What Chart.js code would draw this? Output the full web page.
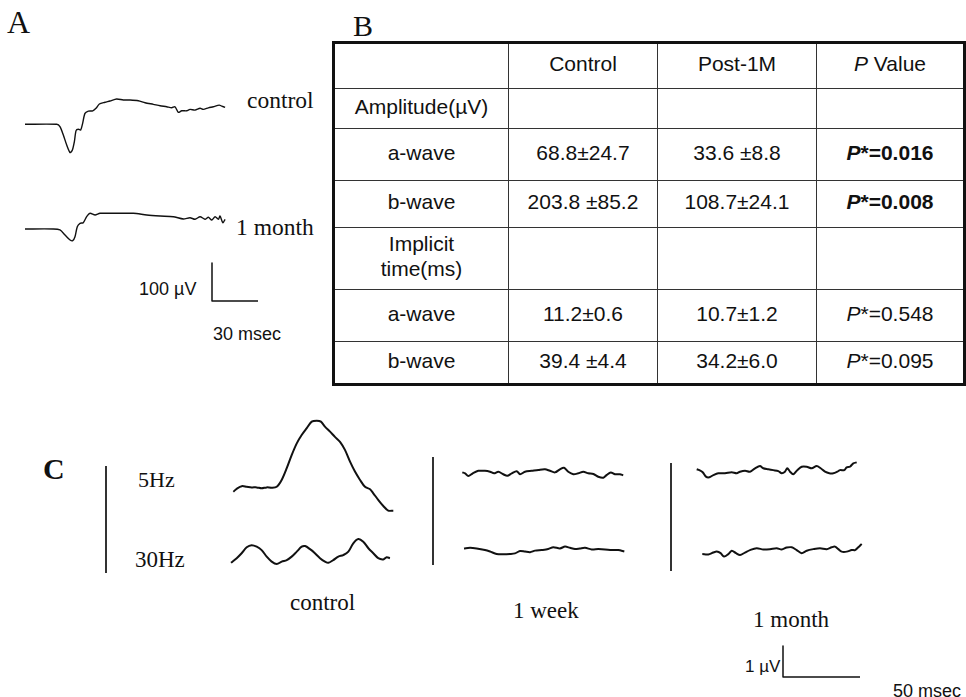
<!DOCTYPE html>
<html>
<head>
<meta charset="utf-8">
<script src="https://cdn.jsdelivr.net/npm/chart.js@4.4.1/dist/chart.umd.min.js"></script>
<style>
html,body{margin:0;padding:0;background:#fff;}
body{width:966px;height:697px;position:relative;overflow:hidden;}
.t{position:absolute;white-space:nowrap;line-height:1;color:#111;}
.serif{font-family:"Liberation Serif","Times New Roman",serif;}
.sans{font-family:"Liberation Sans",Arial,sans-serif;}
canvas{position:absolute;}
.vline{position:absolute;width:1.5px;background:#333;}
#tbl{position:absolute;left:332px;top:41px;border-collapse:collapse;border:3px solid #111;
  font-family:"Liberation Sans",Arial,sans-serif;font-size:21px;color:#111;table-layout:fixed;}
#tbl td{border:1px solid #333;text-align:center;vertical-align:middle;padding:0 0 5px 0;line-height:25px;white-space:nowrap;}
</style>
</head>
<body>
<div class="t serif" style="left:7px;top:6px;font-size:32px;">A</div>
<div class="t serif" style="left:353px;top:11px;font-size:30px;">B</div>
<div class="t serif" style="left:43px;top:454px;font-size:30px;font-weight:bold;">C</div>

<div class="t serif" style="left:247px;top:89px;font-size:23.5px;">control</div>
<div class="t serif" style="left:236px;top:216px;font-size:23.5px;">1 month</div>
<div class="t sans" style="left:139px;top:280px;font-size:18px;">100 µV</div>
<div class="t sans" style="left:213px;top:325px;font-size:18px;">30 msec</div>

<div class="t serif" style="left:138px;top:469px;font-size:22px;">5Hz</div>
<div class="t serif" style="left:135px;top:548px;font-size:23px;">30Hz</div>
<div class="t serif" style="left:290px;top:591px;font-size:23px;">control</div>
<div class="t serif" style="left:513px;top:599px;font-size:23px;">1 week</div>
<div class="t serif" style="left:753px;top:608px;font-size:23px;">1 month</div>
<div class="t sans" style="left:745px;top:658px;font-size:17px;">1 µV</div>
<div class="t sans" style="left:893px;top:682px;font-size:18px;">50 msec</div>

<div class="vline" style="left:105px;top:466px;height:107px;"></div>
<div class="vline" style="left:432px;top:457px;height:108px;"></div>
<div class="vline" style="left:670px;top:463px;height:108px;"></div>

<table id="tbl"></table>
<canvas id="chartA"></canvas>
<canvas id="chartC"></canvas>

<script>
// ---------------- DATA ----------------
// Panel A: ERG traces, time in ms, amplitude in µV (relative to pre-stimulus baseline)
const aControlT = [0,20.7,22.8,25.0,27.2,29.4,30.9,32.2,33.3,34.8,36.3,37.6,39.1,41.3,44.2,46.3,48.5,52.2,55.4,59.8,64.1,68.5,73.9,78.3,83.7,88.1,92.4,95.7,97.8,100.0,102.2,105.5,107.6,110.9,114.2,116.3,119.6,122.8,126.7,128.3,130.5];
const aControlV = [0,0,-6.3,-28.2,-54.5,-74.5,-67.4,-45.5,-16.6,-13.2,-15.0,2.6,28.7,34.7,35.5,42.1,53.4,57.9,61.3,66.6,63.9,63.9,62.1,56.8,52.6,48.9,46.3,43.7,46.3,31.3,35.5,35.5,39.2,37.4,42.1,39.2,43.4,46.1,50.5,47.9,44.5];
const aMonthT = [0,18.5,22.8,26.1,29.4,31.1,32.6,34.1,35.9,38.0,40.2,42.4,45.7,48.9,57.6,70.7,79.4,88.1,96.7,103.3,107.6,110.9,114.2,117.4,119.6,121.8,124.0,126.1,127.2,129.0,130.5];
const aMonthV = [0,0,-2.6,-15.8,-28.9,-30.8,-20.3,6.1,15.0,16.6,32.4,41.3,36.8,41.3,41.3,41.3,36.8,34.2,32.4,26.3,29.7,25.5,32.4,25.5,30.8,23.7,32.4,25.5,34.2,16.6,25.5];
const aScaleUv = 100;   // µV
const aScaleMs = 30;    // ms

// Panel C: flicker ERG traces, time in ms, amplitude in µV
const cControl5T = [0,2.6,5.5,8.7,11.9,15.2,18.4,21.7,24.9,28.2,31.4,34.7,37.9,41.2,44.4,47.7,50.9,54.2,56.9,59.5,62.8,66.0,69.3,72.5,75.8,79.0,82.3,85.5,88.8,90.9,94.2,97.4,100.6,103.9];
const cControl5V = [-0.12,-0.01,0.06,0.04,0.02,0.02,-0.01,0.02,0.01,0.04,0.26,0.64,1.06,1.44,1.71,1.93,2.14,2.17,2.14,1.98,1.82,1.65,1.49,1.23,0.85,0.53,0.26,0.04,-0.04,-0.17,-0.39,-0.58,-0.73,-0.73];
const cControl30T = [0,3.7,6.9,10.2,13.4,16.7,19.9,23.2,26.4,29.7,32.9,36.2,39.4,42.7,45.9,48.1,51.3,54.5,57.8,61.0,63.2,66.4,69.7,72.9,76.2,79.4,82.7,85.9,89.2,92.4,95.6,98.9,101.1,103.2];
const cControl30V = [-0.22,-0.07,0.09,0.28,0.35,0.30,0.19,-0.02,-0.18,-0.26,-0.18,-0.13,-0.02,0.14,0.30,0.32,0.22,0.09,-0.07,-0.18,-0.22,-0.13,-0.02,0.03,0.14,0.41,0.55,0.46,0.25,0.09,-0.07,-0.11,-0.04,-0.07];
const cWeek5T = [0,1.8,3.9,6.8,10.4,14.7,18.0,20.6,23.4,26.6,29.2,32.1,35.3,37.5,40.7,45.1,49.4,53.7,56.9,60.2,63.4,66.0,68.8,72.1,75.3,78.6,81.8,85.1,88.3,91.6,93.8,96.4,99.2,102.4,104.5];
const cWeek5V = [0.02,-0.01,-0.10,-0.01,0.07,0.07,0.04,-0.01,0.04,-0.04,-0.09,-0.01,0.06,-0.04,0.04,0.07,0.10,0.12,0.07,0.02,0.12,0.17,0.04,-0.04,-0.01,0.04,-0.01,-0.03,-0.12,-0.15,-0.06,0.02,-0.04,-0.04,-0.07];
const cWeek30T = [0,3.9,8.2,13.6,16.9,21.2,25.5,29.9,33.1,36.4,39.6,42.9,46.1,50.5,54.7,58.0,62.3,65.6,68.8,72.1,75.3,78.6,82.9,87.2,91.6,95.9,100.2,104.1];
const cWeek30V = [0.05,0.07,0.05,0,-0.05,-0.13,-0.14,-0.13,-0.11,-0.03,-0.05,-0.07,-0.02,0,0.03,0.09,0.05,0.11,0.07,0.03,0.05,0.07,0.02,0.03,0.02,0,0,-0.05];
const cMonth5T = [0,1.7,3.9,6.0,8.2,10.8,14.0,18.4,22.7,26.0,28.1,31.4,34.6,37.9,41.1,43.2,46.5,49.7,53.0,55.2,57.3,58.8,60.6,62.7,65.3,68.2,71.4,74.7,77.9,80.5,83.3,86.1,88.7,91.3,93.1,95.8,97.4,99.5,101.7,103.9];
const cMonth5V = [0.09,0.06,-0.01,-0.15,-0.17,-0.10,-0.04,-0.04,-0.01,-0.04,0.01,0.04,0.01,0.12,0.19,0.12,0.09,0.06,0.03,-0.04,0.01,0.12,0.01,-0.07,0.06,0.17,0.17,0.12,0.19,0.12,0.01,-0.04,-0.04,0.01,0.06,0.06,0.15,0.17,0.28,0.31];
const cMonth30T = [0,3.9,7.1,9.4,11.9,14.1,16.9,19.1,21.9,24.5,27.7,31.0,35.3,39.6,44.0,48.3,51.6,54.8,58.1,61.3,64.5,67.8,72.1,76.4,80.8,84.0,86.2,88.3,90.5,93.8,97.0,99.2,101.3,103.5];
const cMonth30V = [-0.10,-0.11,-0.05,-0.02,-0.07,-0.18,-0.10,0.01,-0.07,-0.13,-0.05,0.03,0.09,0.05,0.06,0.09,0.05,0.11,0.12,0.03,-0.07,0.01,0.06,0.09,0.06,0.12,0.14,0.06,-0.02,-0.02,0.03,0.03,0.12,0.23];
const cScaleUv = 1;    // µV
const cScaleMs = 50;   // ms

// Panel B: table
const tableHeader = ["", "Control", "Post-1M", "P Value"];
const rowLabels = ["Amplitude(µV)", "a-wave", "b-wave", "Implicit<br>time(ms)", "a-wave", "b-wave"];
const controlVals = ["", "68.8±24.7", "203.8 ±85.2", "", "11.2±0.6", "39.4 ±4.4"];
const post1mVals = ["", "33.6 ±8.8", "108.7±24.1", "", "10.7±1.2", "34.2±6.0"];
const pVals = ["", "0.016", "0.008", "", "0.548", "0.095"];
const pSignificant = [false, true, true, false, false, false];

// ---------------- TABLE ----------------
(function buildTable(){
  const colW = [175, 149, 159, 148];
  const rowH = [46, 40, 52, 47, 62, 52, 43];
  const tbl = document.getElementById('tbl');
  let html = '<colgroup>' + colW.map(w => '<col style="width:' + w + 'px">').join('') + '</colgroup>';
  html += '<tr style="height:' + rowH[0] + 'px">' + tableHeader.map((h, i) =>
    '<td>' + (i === 3 ? '<i>P</i> Value' : h) + '</td>').join('') + '</tr>';
  rowLabels.forEach((lab, r) => {
    let p = '';
    if (pVals[r]) {
      p = pSignificant[r] ? '<b><i>P</i>*=' + pVals[r] + '</b>' : '<i>P</i>*=' + pVals[r];
    }
    html += '<tr style="height:' + rowH[r + 1] + 'px"><td>' + lab + '</td><td>' + controlVals[r] +
      '</td><td>' + post1mVals[r] + '</td><td>' + p + '</td></tr>';
  });
  tbl.innerHTML = html;
})();

// ---------------- CHARTS ----------------
function panelChart(id, box, pxPerX, pxPerY, traces) {
  const cv = document.getElementById(id);
  cv.width = box.w; cv.height = box.h;
  cv.style.left = box.x + 'px'; cv.style.top = box.y + 'px';
  cv.style.width = box.w + 'px'; cv.style.height = box.h + 'px';
  const datasets = traces.map(tr => {
    const ox = (tr.at[0] - box.x) / pxPerX;
    const oy = (box.y + box.h - tr.at[1]) / pxPerY;
    return {
      data: tr.t.map((t, i) => ({ x: ox + t, y: oy + tr.v[i] })),
      showLine: true,
      borderColor: '#111',
      borderWidth: tr.lw,
      pointRadius: 0,
      tension: tr.tension,
      fill: false,
      clip: false,
      borderJoinStyle: 'round',
      borderCapStyle: 'butt'
    };
  });
  return new Chart(cv, {
    type: 'scatter',
    data: { datasets },
    options: {
      responsive: false,
      animation: false,
      devicePixelRatio: 1,
      layout: { padding: 0 },
      events: [],
      plugins: { legend: { display: false }, tooltip: { enabled: false } },
      scales: {
        x: { type: 'linear', display: false, min: 0, max: box.w / pxPerX },
        y: { type: 'linear', display: false, min: 0, max: box.h / pxPerY }
      }
    }
  });
}

// Panel A: 30 ms = 46 px, 100 µV = 38 px
panelChart('chartA', { x: 15, y: 85, w: 260, h: 225 }, 46 / aScaleMs, 38 / aScaleUv, [
  { t: aControlT, v: aControlV, at: [25, 124.3], lw: 1.4, tension: 0.25 },
  { t: aMonthT, v: aMonthV, at: [25, 229], lw: 1.4, tension: 0.25 },
  { t: [0, 0, aScaleMs], v: [aScaleUv, 0, 0], at: [212, 301], lw: 1.5, tension: 0 }
]);

// Panel C: 50 ms = 77 px, 1 µV = 31 px
panelChart('chartC', { x: 220, y: 405, w: 655, h: 280 }, 77 / cScaleMs, 31 / cScaleUv, [
  { t: cControl5T, v: cControl5V, at: [233.3, 488], lw: 2, tension: 0.3 },
  { t: cControl30T, v: cControl30V, at: [231, 556], lw: 2, tension: 0.35 },
  { t: cWeek5T, v: cWeek5V, at: [462.3, 473], lw: 2, tension: 0.3 },
  { t: cWeek30T, v: cWeek30V, at: [464, 550], lw: 2, tension: 0.3 },
  { t: cMonth5T, v: cMonth5V, at: [696.7, 472], lw: 2, tension: 0.3 },
  { t: cMonth30T, v: cMonth30V, at: [702.3, 551], lw: 2, tension: 0.3 },
  { t: [0, 0, cScaleMs], v: [cScaleUv, 0, 0], at: [783, 677], lw: 1.5, tension: 0 }
]);
</script>
</body>
</html>
